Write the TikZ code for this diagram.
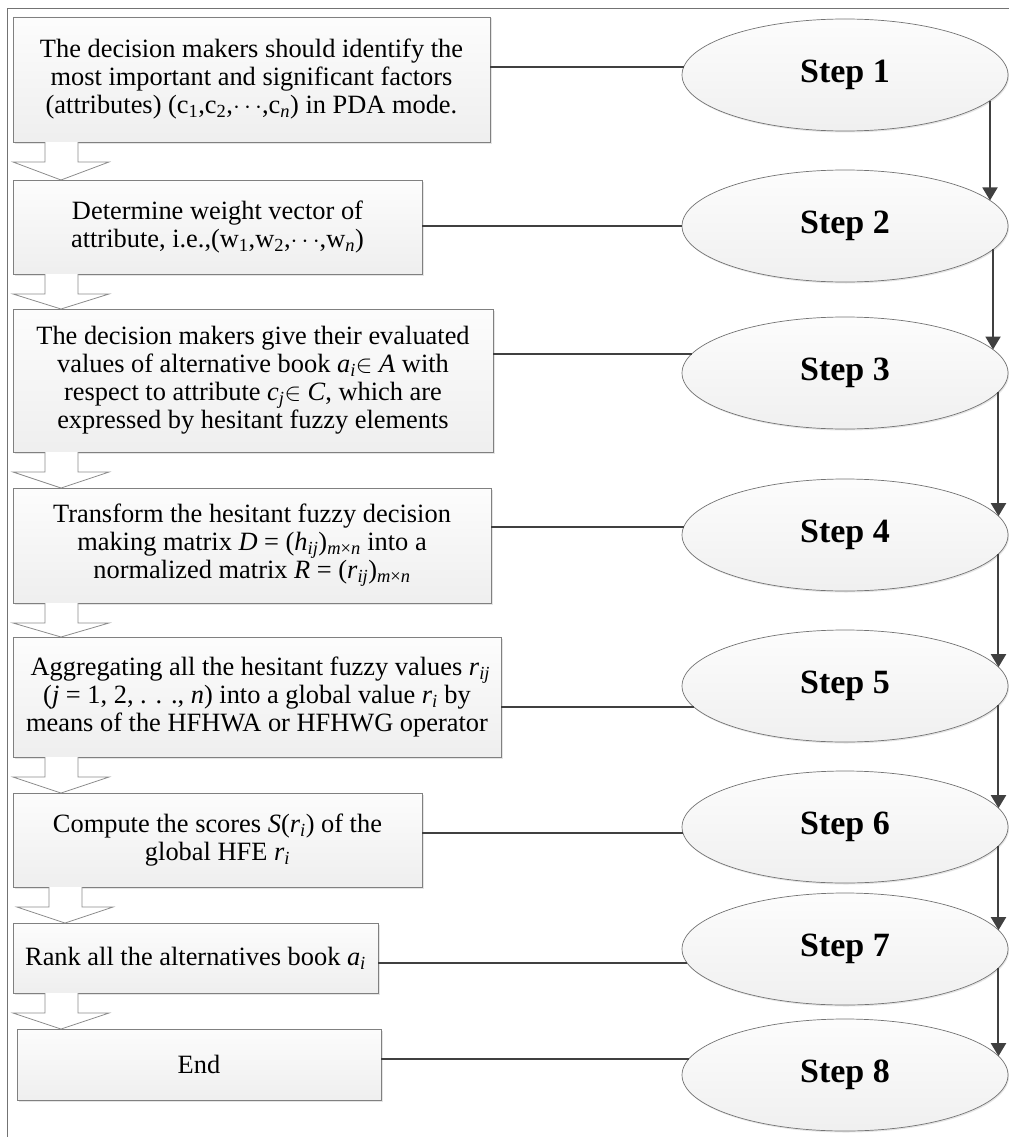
\documentclass[tikz,border=0pt]{standalone}
\usepackage{fontspec}
\setmainfont{Liberation Serif}
\usetikzlibrary{calc,shapes.geometric,arrows.meta,shadows}
\newcommand\mv[1]{\textit{#1}}
\newcommand\sbs[1]{\textsubscript{#1}}
\newcommand\hollowarrow[3]{%
  \coordinate (ha-tip) at ($(#1.south west)+(48+#3,0)$);
  \draw[harrow] ($(#1.south west)+(32+#3,0)$) -- ($(#1.south west)+(32+#3,20)$)
    -- ($(#1.south west)+(#3,20)$) -- (ha-tip |- #2.north)
    -- ($(#1.south west)+(96+#3,20)$) -- ($(#1.south west)+(65+#3,20)$)
    -- ($(#1.south west)+(65+#3,0)$);}
\begin{document}
\begin{tikzpicture}[x=1pt,y=-1pt,
  box/.style={draw=black!50, line width=0.8pt, top color=gray!2, bottom color=gray!13,
    align=center, inner sep=0pt, outer sep=0pt,
    font=\fontsize{26.4}{28}\selectfont,
    drop shadow={shadow xshift=1.5pt, shadow yshift=-1.5pt, opacity=0.25, fill=black!40}},
  stepnode/.style={ellipse, draw=black!55, line width=0.7pt, top color=gray!2, bottom color=gray!12,
    minimum width=326pt, minimum height=112pt, inner sep=0pt, outer sep=0pt,
    font=\fontsize{34}{40}\selectfont\bfseries,
    drop shadow={shadow xshift=1pt, shadow yshift=-1.5pt, opacity=0.25, fill=black!40}},
  link/.style={draw=black!75, line width=2pt},
  flow/.style={draw=black!75, line width=2pt, -{Triangle[width=15pt,length=13pt]}},
  harrow/.style={draw=black!45, line width=0.8pt, fill=white},
  frameline/.style={draw=black!55, line width=0.8pt}
]
\useasboundingbox (0,0) rectangle (1009,1137);
\coordinate (fa) at (7,1137);
\coordinate (fb) at (7,8);
\coordinate (fc) at (1009,8);
\draw[frameline] (fa) -- (fb) -- (fc);

% process boxes
\node[box, minimum width=477pt, minimum height=125pt] (b1) at (251.5,79.5)
  {The decision makers should identify the\\ most important and significant factors\\
   (attributes) (c\sbs{1},c\sbs{2},$\cdots$,c\sbs{\mv{n}}) in PDA mode.};
\node[box, minimum width=409pt, minimum height=94pt] (b2) at (217.5,227)
  {Determine weight vector of\\ attribute, i.e.,(w\sbs{1},w\sbs{2},$\cdots$,w\sbs{\mv{n}})};
\node[box, minimum width=480pt, minimum height=143pt] (b3) at (253,380.5)
  {The decision makers give their evaluated\\
   values of alternative book \mv{a}\sbs{\mv{i}}$\in$ \mv{A} with\\
   respect to attribute \mv{c}\sbs{\mv{j}}$\in$ \mv{C}, which are\\
   expressed by hesitant fuzzy elements};
\node[box, minimum width=478pt, minimum height=115pt] (b4) at (252,545.5)
  {Transform the hesitant fuzzy decision\\
   making matrix \mv{D} = (\mv{h}\sbs{\mv{ij}})\sbs{\mv{m}×\mv{n}} into a\\
   normalized matrix \mv{R} = (\mv{r}\sbs{\mv{ij}})\sbs{\mv{m}×\mv{n}}};
\node[box, minimum width=488pt, minimum height=120pt] (b5) at (257,697)
  {\ Aggregating all the hesitant fuzzy values \mv{r}\sbs{\mv{ij}}\\
   (\mv{j} = 1, 2, . . ., \mv{n}) into a global value \mv{r}\sbs{\mv{i}} by\\
   means of the HFHWA or HFHWG operator};
\node[box, minimum width=409pt, minimum height=94pt] (b6) at (217.5,840)
  {Compute the scores \mv{S}(\mv{r}\sbs{\mv{i}}) of the\\ global HFE \mv{r}\sbs{\mv{i}}};
\node[box, minimum width=365pt, minimum height=70pt] (b7) at (195.5,958)
  {Rank all the alternatives book \mv{a}\sbs{\mv{i}}};
\node[box, minimum width=364pt, minimum height=71pt] (b8) at (199,1064.5) {End};

% hollow down arrows
\hollowarrow{b1}{b2}{0}
\hollowarrow{b2}{b3}{0}
\hollowarrow{b3}{b4}{0}
\hollowarrow{b4}{b5}{0}
\hollowarrow{b5}{b6}{0}
\hollowarrow{b6}{b7}{4}
\hollowarrow{b7}{b8}{0}

% step ellipses
\node[stepnode] (s1) at (845,75) {Step 1};
\node[stepnode] (s2) at (845,226) {Step 2};
\node[stepnode] (s3) at (845,373) {Step 3};
\node[stepnode] (s4) at (845,535) {Step 4};
\node[stepnode] (s5) at (845,686) {Step 5};
\node[stepnode] (s6) at (845,827) {Step 6};
\node[stepnode] (s7) at (845,949) {Step 7};
\node[stepnode] (s8) at (845,1075) {Step 8};

% horizontal links
\draw[link] (b1.east |- s1.177.2) -- (s1.177.2);
\draw[link] (b2.east |- s2.180.35) -- (s2.180.35);
\draw[link] (b3.east |- s3.173.8) -- (s3.173.8);
\draw[link] (b4.east |- s4.177.5) -- (s4.177.5);
\draw[link] (b5.east |- s5.188.3) -- (s5.188.3);
\draw[link] (b6.east |- s6.182.8) -- (s6.182.8);
\draw[link] (b7.east |- s7.185.1) -- (s7.185.1);
\draw[link] (b8.east |- s8.174.15) -- (s8.174.15);

% vertical flow arrows
\draw[flow] (s1.-10.65) -- (s2.10.65);
\draw[flow] (s2.-9.35) -- (s3.9.35);
\draw[flow] (s3.-7.95) -- (s4.7.95);
\draw[flow] (s4.-7.95) -- (s5.7.95);
\draw[flow] (s5.-7.95) -- (s6.7.95);
\draw[flow] (s6.-7.95) -- (s7.7.95);
\draw[flow] (s7.-7.95) -- (s8.7.95);
\end{tikzpicture}
\end{document}
